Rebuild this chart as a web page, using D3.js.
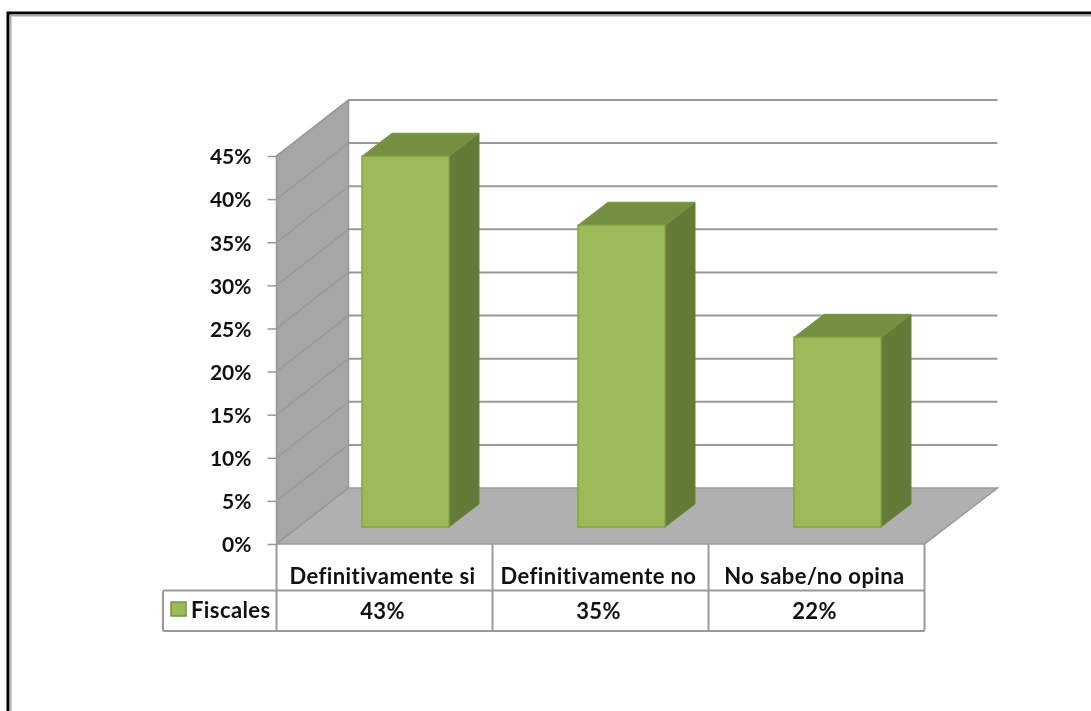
<!DOCTYPE html>
<html>
<head>
<meta charset="utf-8">
<script src="https://cdn.jsdelivr.net/npm/d3@7"></script>
<style>
  html, body { margin: 0; padding: 0; background: #fff; overflow: hidden; }
  svg { display: block; }
  text { font-family: Lato, "Open Sans", sans-serif; font-weight: 700; fill: #111; }
  .tableText { font-size: 22px; letter-spacing: 0.4px; }
</style>
</head>
<body>
<script>
const categories = ["Definitivamente si", "Definitivamente no", "No sabe/no opina"];
const seriesName = "Fiscales";
const values = [43, 35, 22];
const ticks = [0, 5, 10, 15, 20, 25, 30, 35, 40, 45];

const w = 1091;
const h = 711;
const depthX = 72;
const depthY = -56;
const barWidth = 87;
const barDepthX = 30;
const barDepthY = -23;
const barOffsetX = 21;
const barOffsetY = -17;

const xScale = d3.scaleBand().domain(categories).range([276.5, 924.5]);
const yScale = d3.scaleLinear().domain([0, 45]).range([544, 156]);

const tableTop = yScale(0);
const tableMid = 590.5;
const tableBottom = 631;
const legendLeft = 163;
const gridColor = "#999999";

const svg = d3.select("body").append("svg")
  .attr("width", w)
  .attr("height", h);

// page frame
svg.append("path")
  .attr("d", `M8,${h} V13 H${w}`)
  .attr("fill", "none")
  .attr("stroke", "#000")
  .attr("stroke-width", 3);
svg.append("path")
  .attr("d", `M10.5,${h} V15.5 H${w}`)
  .attr("fill", "none")
  .attr("stroke", "#aaa")
  .attr("stroke-width", 2);

const plot = svg.append("g").style("filter", "blur(0.4px)");

const pts = (arr) => arr.map(p => p.join(",")).join(" ");
const [xL, xR] = xScale.range();
const backRight = xR + depthX + 1;

// side wall and floor
plot.append("polygon")
  .attr("points", pts([[xL, yScale(0)], [xL, yScale(45)], [xL + depthX, yScale(45) + depthY], [xL + depthX, yScale(0) + depthY]]))
  .attr("fill", "#a6a6a6")
  .attr("stroke", gridColor)
  .attr("stroke-width", 1.5);

plot.append("polygon")
  .attr("points", pts([[xL, yScale(0)], [xL + depthX, yScale(0) + depthY], [backRight, yScale(0) + depthY], [xR, yScale(0)]]))
  .attr("fill", "#b0b0b0")
  .attr("stroke", gridColor)
  .attr("stroke-width", 1.5);

// gridlines on both walls
plot.selectAll(".wallLine")
  .data(ticks)
  .enter()
  .append("line")
  .attr("class", "wallLine")
  .attr("x1", xL)
  .attr("y1", d => yScale(d))
  .attr("x2", xL + depthX)
  .attr("y2", d => yScale(d) + depthY)
  .attr("stroke", gridColor)
  .attr("stroke-width", 1.5);

plot.selectAll(".gridLine")
  .data(ticks.slice(1))
  .enter()
  .append("line")
  .attr("class", "gridLine")
  .attr("x1", xL + depthX)
  .attr("y1", d => yScale(d) + depthY)
  .attr("x2", backRight)
  .attr("y2", d => yScale(d) + depthY)
  .attr("stroke", gridColor)
  .attr("stroke-width", 2);

// bars sit forward of the wall, on the floor
const data = categories.map((c, i) => ({ name: c, value: values[i] }));
const barLeft = d => xScale(d.name) + (xScale.bandwidth() - barWidth) / 2 + barOffsetX;
const barBase = yScale(0) + barOffsetY;
const barTop = d => yScale(d.value) + barOffsetY;

const bars = plot.selectAll(".bar")
  .data(data)
  .enter()
  .append("g")
  .attr("class", "bar");

bars.append("polygon")
  .attr("points", d => {
    const x = barLeft(d) + barWidth;
    return pts([[x, barTop(d)], [x + barDepthX, barTop(d) + barDepthY], [x + barDepthX, barBase + barDepthY], [x, barBase]]);
  })
  .attr("fill", "#647a37")
  .attr("stroke", "#6b8239");

bars.append("polygon")
  .attr("points", d => {
    const x = barLeft(d);
    return pts([[x, barTop(d)], [x + barDepthX, barTop(d) + barDepthY], [x + barWidth + barDepthX, barTop(d) + barDepthY], [x + barWidth, barTop(d)]]);
  })
  .attr("fill", "#758f40")
  .attr("stroke", "#7a9643");

bars.append("rect")
  .attr("x", barLeft)
  .attr("y", barTop)
  .attr("width", barWidth)
  .attr("height", d => barBase - barTop(d))
  .attr("fill", "#9bbb59")
  .attr("stroke", "#83a548")
  .attr("stroke-width", 1.5);

// y axis
const yAxis = d3.axisLeft(yScale)
  .tickValues(ticks)
  .tickSize(9)
  .tickPadding(16)
  .tickFormat(d => d + "%");

const axisG = plot.append("g")
  .attr("transform", `translate(${xL},0)`)
  .call(yAxis);
axisG.select(".domain").remove();
axisG.selectAll("line").attr("stroke", gridColor).attr("stroke-width", 1.5);
axisG.selectAll("text")
  .style("font-size", "21px")
  .attr("fill", "#111")
  .attr("dy", "0.37em");

// data table
const tableLine = (x1, y1, x2, y2) => plot.append("line")
  .attr("x1", x1).attr("y1", y1).attr("x2", x2).attr("y2", y2)
  .attr("stroke", gridColor)
  .attr("stroke-width", 2);

tableLine(legendLeft, tableMid, xR, tableMid);
tableLine(legendLeft, tableBottom, xR, tableBottom);
tableLine(legendLeft, tableMid, legendLeft, tableBottom);
tableLine(xL, tableTop, xL, tableBottom);
categories.forEach(c => tableLine(xScale(c) + xScale.bandwidth(), tableTop, xScale(c) + xScale.bandwidth(), tableBottom));

plot.selectAll(".catLabel")
  .data(data)
  .enter()
  .append("text")
  .attr("class", "catLabel tableText")
  .attr("x", d => xScale(d.name) + xScale.bandwidth() / 2 - 2)
  .attr("y", 584)
  .attr("text-anchor", "middle")
  .text(d => d.name);

plot.selectAll(".valLabel")
  .data(data)
  .enter()
  .append("text")
  .attr("class", "valLabel tableText")
  .attr("x", d => xScale(d.name) + xScale.bandwidth() / 2 - 2)
  .attr("y", 619)
  .attr("text-anchor", "middle")
  .text(d => d.value + "%");

// legend key
plot.append("rect")
  .attr("x", 171)
  .attr("y", 602)
  .attr("width", 15)
  .attr("height", 14)
  .attr("fill", "#9bbb59")
  .attr("stroke", "#76923c")
  .attr("stroke-width", 1.5);

plot.append("text")
  .attr("class", "tableText")
  .attr("x", 191)
  .attr("y", 618)
  .text(seriesName);
</script>
</body>
</html>
